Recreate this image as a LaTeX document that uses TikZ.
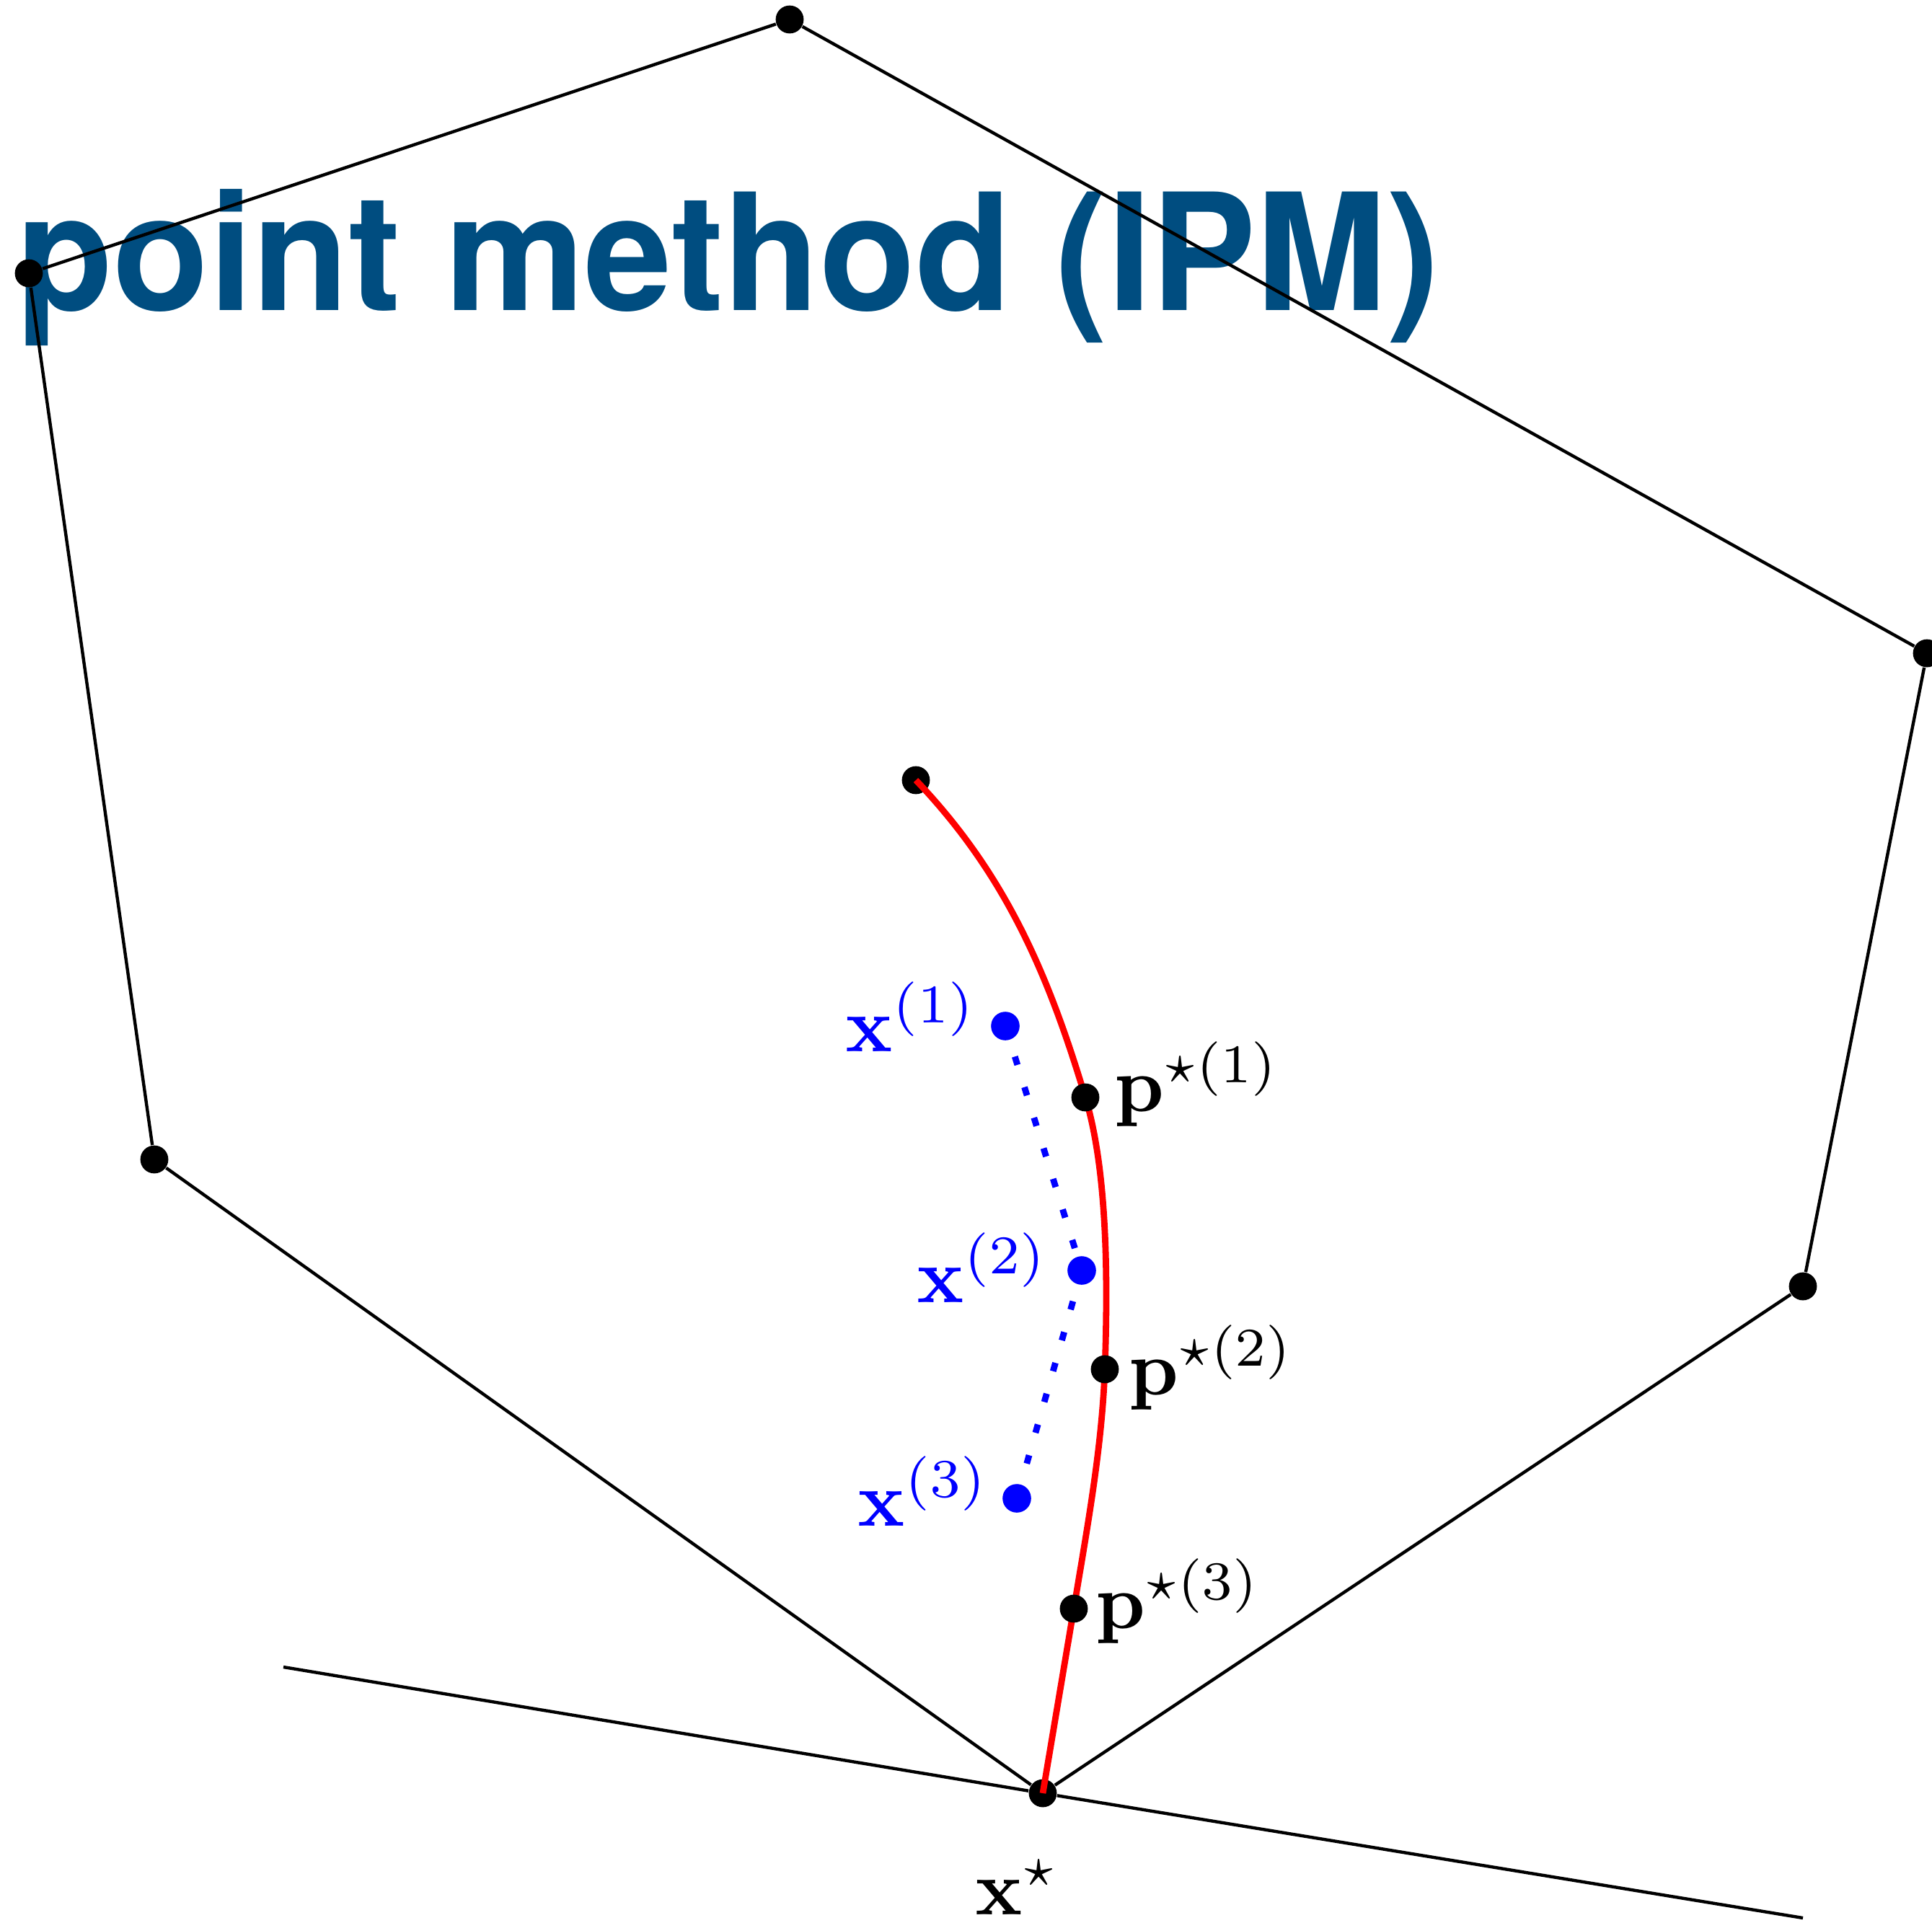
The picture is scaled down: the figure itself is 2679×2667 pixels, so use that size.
\documentclass[tikz,border=0pt]{standalone}
\usepackage[no-math]{fontspec}
\newfontfamily\titlefont{TeX Gyre Heros}
\definecolor{titleblue}{RGB}{0,77,128}
\pgfdeclarelayer{back}
\pgfdeclarelayer{mid}
\pgfsetlayers{back,mid,main}
\newcommand{\biglbl}[1]{\scalebox{2.7}{$#1$}}
\tikzset{
  vdot/.style={circle,fill=black,inner sep=0pt,minimum size=9.7pt},
  bdot/.style={circle,fill=blue,inner sep=0pt,minimum size=9.9pt},
  edge/.style={line width=1.1pt,black},
  cpath/.style={line width=2.2pt,red},
  ipath/.style={line width=2.2pt,blue,dash pattern=on 3pt off 8.1pt},
  lbl/.style={inner sep=0pt,anchor=base west},
  ttl/.style={inner sep=0pt,anchor=base west,text=titleblue,font=\titlefont\bfseries\fontsize{56.4}{60}\selectfont}
}
\begin{document}
\begin{tikzpicture}[x=0.25pt,y=-0.25pt]
\useasboundingbox (0,0) rectangle (2679,2667);
% polygon vertices
\node[vdot] (V1) at (1095,27) {};
\node[vdot] (V6) at (2672,906) {};
\node[vdot] (V5) at (2500,1784) {};
\node[vdot] (V3) at (214,1608) {};
\node[vdot] (V2) at (40,379) {};
% central path points
\node[vdot] (P1) at (1505,1522) {};
\node[vdot] (P2) at (1532,1899) {};
\node[vdot] (P3) at (1489,2231) {};
% iterates
\node[bdot] (X1) at (1394,1423) {};
\node[bdot] (X2) at (1500,1762) {};
\node[bdot] (X3) at (1410,2078) {};
% labels
\node[lbl,text=blue] (LX1) at (1172,1458) {\biglbl{\mathbf{x}^{(1)}}};
\node[lbl,text=blue] (LX2) at (1271,1806) {\biglbl{\mathbf{x}^{(2)}}};
\node[lbl,text=blue] (LX3) at (1189,2116) {\biglbl{\mathbf{x}^{(3)}}};
\node[lbl] (LP1) at (1545,1541) {\biglbl{\mathbf{p}^{\star(1)}}};
\node[lbl] (LP2) at (1565,1934) {\biglbl{\mathbf{p}^{\star(2)}}};
\node[lbl] (LP3) at (1519,2258) {\biglbl{\mathbf{p}^{\star(3)}}};
\node[lbl] (LXS) at (1352,2655) {\biglbl{\mathbf{x}^{\star}}};
\coordinate (tA) at (393,2312);
\coordinate (tB) at (2500,2660);
\begin{pgfonlayer}{back}
  \node[ttl] (title) at (23,430) {\scalebox{0.966}[1]{point method (IPM)}};
  \node[vdot] (S) at (1270,1082) {};
  \node[vdot] (XS) at (1446,2487) {};
  \draw[edge] (V1) -- (V6) -- (V5) -- (XS) -- (V3) -- (V2) -- (V1);
  \draw[edge] (tA) -- (XS) -- (tB);
\end{pgfonlayer}
\begin{pgfonlayer}{mid}
  \draw[cpath] (S.center) .. controls (1394,1212) and (1453,1349) .. (P1.center)
     .. controls (1537,1627) and (1536,1789) .. (P2.center)
     .. controls (1528,2009) and (1507,2122) .. (P3.center)
     -- (XS.center);
  \draw[ipath] (X1.center) -- (X2.center) -- (X3.center);
\end{pgfonlayer}
\end{tikzpicture}
\end{document}
